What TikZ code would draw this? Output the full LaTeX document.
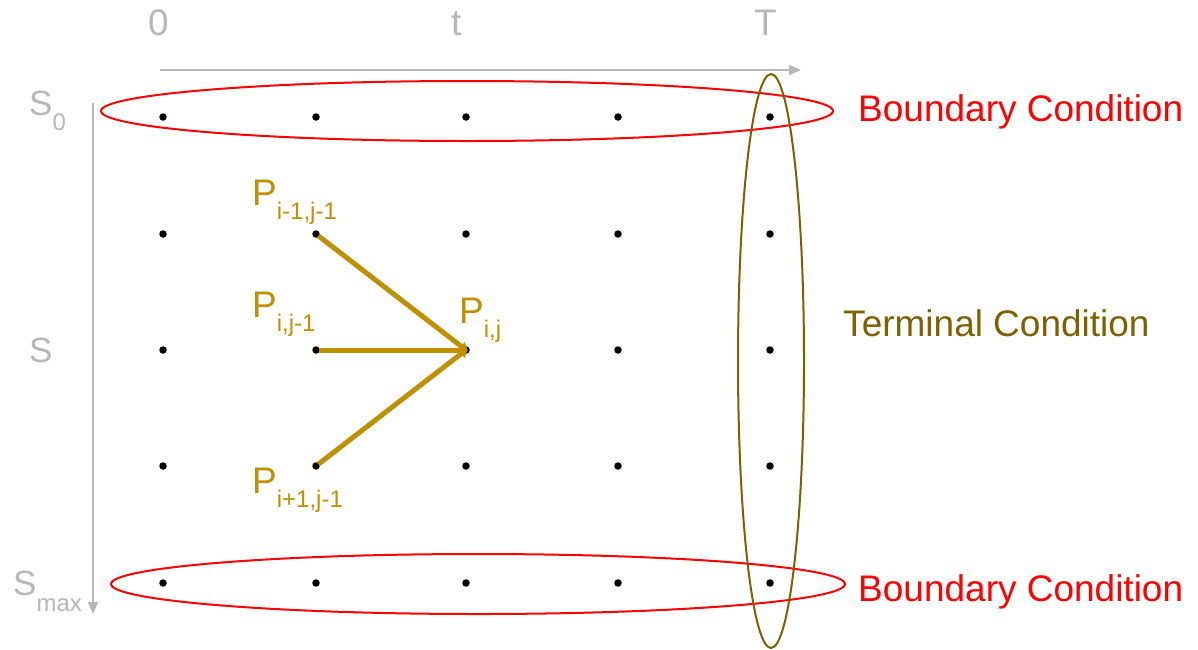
\documentclass[tikz,border=0pt]{standalone}
\usepackage{fontspec}
\setmainfont{Liberation Sans}
\usetikzlibrary{arrows.meta}
\definecolor{axisgray}{HTML}{B7B7B7}
\definecolor{gold}{HTML}{BF9000}
\definecolor{olive}{HTML}{7F6000}
\definecolor{bred}{HTML}{FF0000}
\newcommand{\lowsub}[2]{\raisebox{-#1pt}{\fontsize{24}{24}\selectfont #2}}
\begin{document}
\begin{tikzpicture}[x=1pt,y=-1pt,
  dot/.style={circle,fill=black,inner sep=0pt,minimum size=7.5pt},
  axis/.style={draw=axisgray,line width=1.6pt,-{Triangle[length=12pt,width=10pt]}},
  axlabel/.style={text=axisgray,font=\fontsize{37}{37}\selectfont,anchor=base west,inner sep=0pt},
  plabel/.style={text=gold,font=\fontsize{37}{37}\selectfont,anchor=base west,inner sep=0pt},
  cond/.style={font=\fontsize{37}{37}\selectfont,anchor=base west,inner sep=0pt},
  flow/.style={draw=gold,line width=5pt,-{Triangle[length=8pt,width=11pt]},shorten >=-2pt,shorten <=3pt},
  ring/.style={line width=2pt}]
\useasboundingbox (0,0) rectangle (1198,649);
% grid dots
\foreach \r/\y in {0/117,1/234,2/350,3/466,4/583}{
  \foreach \c/\x in {0/163,1/316,2/466,3/618,4/770}{
    \node[dot] (d\r\c) at (\x,\y) {};
  }
}
% axes
\coordinate (xa) at (160,70);
\coordinate (xb) at (801,70);
\coordinate (ya) at (93,103);
\coordinate (yb) at (93,614);
\draw[axis] (xa) -- (xb);
\draw[axis] (ya) -- (yb);
\node[axlabel] (l0) at (148,35) {0};
\node[axlabel] (lt) at (451,35) {t};
\node[axlabel] (lT) at (754,35) {T};
\node[axlabel,font=\fontsize{35}{35}\selectfont] (s0) at (29,115) {S\lowsub{15}{0}};
\node[axlabel,font=\fontsize{35}{35}\selectfont] (s) at (29,362) {S};
\node[axlabel,font=\fontsize{35}{35}\selectfont] (smax) at (13,595) {S\lowsub{16}{max}};
% ellipses
\draw[bred,ring] (467,111) ellipse [x radius=366,y radius=30];
\draw[bred,ring] (478,584) ellipse [x radius=367,y radius=30];
\draw[olive,ring] (771,361) ellipse [x radius=33,y radius=287];
% condition labels
\node[cond,text=bred] (bc1) at (858,121) {Boundary Condition};
\node[cond,text=bred] (bc2) at (858,601) {Boundary Condition};
\node[cond,text=olive] (tc) at (843,336) {Terminal Condition};
% P labels
\node[plabel] (p1) at (252,205) {P\lowsub{14}{i-1,j-1}};
\node[plabel] (p2) at (252,317) {P\lowsub{14}{i,j-1}};
\node[plabel] (p3) at (459,323) {P\lowsub{14}{i,j}};
\node[plabel] (p4) at (252,493) {P\lowsub{14}{i+1,j-1}};
% flows
\draw[flow] (d11.center) -- (d22.center);
\draw[flow] (d21.center) -- (d22.center);
\draw[flow] (d31.center) -- (d22.center);
\end{tikzpicture}
\end{document}
